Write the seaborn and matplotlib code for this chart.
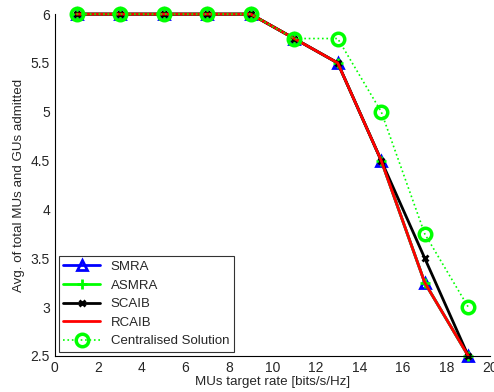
import numpy as np
import pandas as pd
import seaborn as sns
from matplotlib import pyplot as plt

rate = [1, 3, 5, 7, 9, 11, 13, 15, 17, 19]
smra = [6, 6, 6, 6, 6, 5.75, 5.5, 4.5, 3.25, 2.5]
asmra = [6, 6, 6, 6, 6, 5.75, 5.5, 4.5, 3.25, 2.5]
scaib = [6, 6, 6, 6, 6, 5.75, 5.5, 4.5, 3.5, 2.5]
rcaib = [6, 6, 6, 6, 6, 5.75, 5.5, 4.5, 3.25, 2.5]
central = [6, 6, 6, 6, 6, 5.75, 5.75, 5.0, 3.75, 3.0]

sns.set_style("white")
plt.rcParams['font.family'] = ['Liberation Sans', 'DejaVu Sans']
plt.rcParams['xtick.direction'] = 'in'
plt.rcParams['ytick.direction'] = 'in'

fig = plt.figure(figsize=(4.94, 3.92), dpi=100)
ax = fig.add_axes([0.111, 0.092, 0.881, 0.872])

styles = [
    ('SMRA', smra, dict(color='#0000ff', marker='^', markersize=7, markerfacecolor='none', markeredgewidth=2, linewidth=2, linestyle='-')),
    ('ASMRA', asmra, dict(color='#00ff00', marker='+', markersize=7, markeredgewidth=2, linewidth=2, linestyle='-')),
    ('SCAIB', scaib, dict(color='black', marker='x', markersize=4.5, markeredgewidth=2, linewidth=2, linestyle='-')),
    ('RCAIB', rcaib, dict(color='#ff0000', marker='None', linewidth=2, linestyle='-')),
    ('Centralised Solution', central, dict(color='#00ff00', marker='o', markersize=9, markerfacecolor='none',
                                            markeredgewidth=2.5, linewidth=1.2, linestyle=':')),
]

for name, vals, kw in styles:
    df = pd.DataFrame({'rate': rate, 'val': vals})
    sns.lineplot(data=df, x='rate', y='val', ax=ax, label=name)
    line = ax.lines[-1]
    line.set(**kw)
    line.set_markeredgecolor(kw['color'])
    line.set_clip_on(False)

ax.set_xlim(0, 20)
ax.set_ylim(2.5, 6)
ax.set_xticks(np.arange(0, 21, 2))
ax.set_yticks([2.5, 3, 3.5, 4, 4.5, 5, 5.5, 6])
ax.set_yticklabels(['2.5', '3', '3.5', '4', '4.5', '5', '5.5', '6'])
ax.tick_params(labelsize=10, length=4, width=0.8, top=False, right=False)
for s in ['top', 'right']:
    ax.spines[s].set_visible(False)
for s in ['left', 'bottom']:
    ax.spines[s].set_color('black')
    ax.spines[s].set_linewidth(0.8)

ax.set_xlabel('MUs target rate [bits/s/Hz]', fontsize=9.6, labelpad=1)
ax.set_ylabel('Avg. of total MUs and GUs admitted', fontsize=9.6, labelpad=4)

leg = ax.legend(ax.lines[:5], [s[0] for s in styles], loc='lower left', fontsize=9.5, frameon=True,
                fancybox=False, edgecolor='black', borderpad=0.35, labelspacing=0.48,
                handlelength=2.8, borderaxespad=0.3)
leg.get_frame().set_linewidth(0.8)
leg.set_zorder(5)

fig.savefig('out.png', dpi=100)
